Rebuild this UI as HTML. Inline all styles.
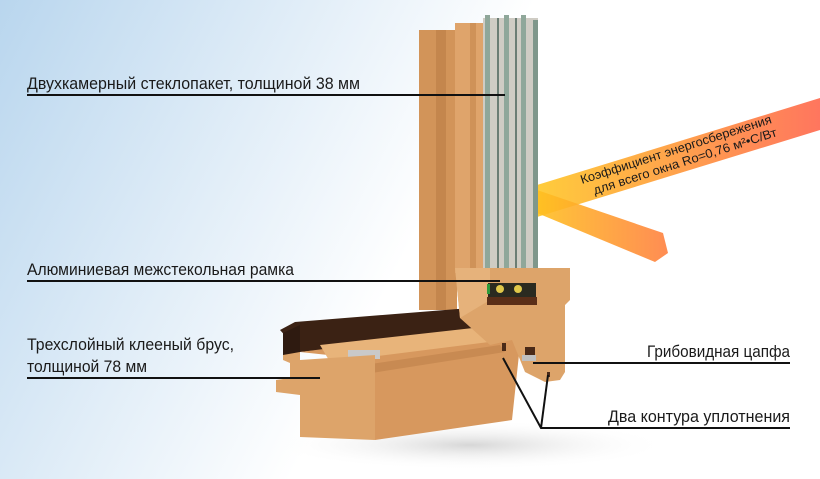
<!DOCTYPE html>
<html><head><meta charset="utf-8"><style>
html,body{margin:0;padding:0;width:820px;height:479px;overflow:hidden;background:#fff}
svg{display:block}
text{font-family:"Liberation Sans",sans-serif;fill:#1a1a1a}
</style></head><body>
<svg width="820" height="479" viewBox="0 0 820 479" xmlns="http://www.w3.org/2000/svg">
<defs>
<linearGradient id="bg" x1="0" y1="0" x2="1" y2="0.3">
<stop offset="0" stop-color="#b9d6ee"/><stop offset="0.35" stop-color="#e2eef8"/><stop offset="0.6" stop-color="#ffffff"/>
</linearGradient>
<linearGradient id="beam1" x1="0" y1="0" x2="1" y2="0">
<stop offset="0" stop-color="#ffc82a"/><stop offset="1" stop-color="#ff6a50"/>
</linearGradient>
<linearGradient id="beam2" x1="0" y1="0" x2="1" y2="0">
<stop offset="0" stop-color="#ffc020"/><stop offset="1" stop-color="#ff8040"/>
</linearGradient>
<radialGradient id="sh" cx="0.5" cy="0.5" r="0.5">
<stop offset="0" stop-color="#bbb" stop-opacity="0.6"/><stop offset="1" stop-color="#fff" stop-opacity="0"/>
</radialGradient>
</defs>
<rect width="820" height="479" fill="url(#bg)"/>
<ellipse cx="470" cy="445" rx="200" ry="25" fill="url(#sh)"/>

<!-- light beams -->
<polygon points="537,185 820,98 820,130 537,217" fill="url(#beam1)" opacity="0.92"/>
<polygon points="537,190 663,233 668,253 655,262 537,213" fill="url(#beam2)" opacity="0.9"/>

<!-- vertical frame -->
<rect x="419" y="30" width="38" height="280" fill="#d29459"/>
<rect x="436" y="30" width="10" height="280" fill="#c4864d"/>
<rect x="455" y="23" width="28" height="250" fill="#dfa46b"/>
<rect x="470" y="23" width="6" height="250" fill="#cf9258"/>
<!-- glass -->
<rect x="483" y="18" width="55" height="258" fill="#cfccc4"/>
<rect x="485" y="15" width="5" height="262" fill="#8fa79a"/>
<rect x="504" y="15" width="5" height="262" fill="#8fa79a"/>
<rect x="521" y="15" width="5" height="262" fill="#8fa79a"/>
<rect x="533" y="20" width="5" height="258" fill="#7f978b"/>
<rect x="497" y="18" width="2" height="258" fill="#6b7d74"/>
<rect x="515" y="18" width="2" height="258" fill="#6b7d74"/>

<!-- horizontal frame bar (perspective) -->
<polygon points="280,330 295,322 470,308 500,305 505,330 300,352" fill="#3b2214"/>
<polygon points="300,352 505,326 520,345 512,420 375,440 375,360" fill="#d7985e"/>
<polygon points="320,345 500,325 505,340 330,362" fill="#e8b47a"/>
<polygon points="330,370 500,345 505,352 340,378" fill="#c88a52"/>
<rect x="348" y="350" width="32" height="9" fill="#c9c9c9"/>
<!-- end face -->
<polygon points="283,350 300,350 300,360 375,355 375,440 300,437 300,395 276,392 276,380 290,378 290,363 283,360" fill="#dda46a"/>
<polygon points="283,333 300,325 300,352 283,355" fill="#2e1a10"/>

<!-- sash bottom profile -->
<polygon points="455,268 570,268 570,300 565,305 565,372 560,380 545,382 525,372 512,340 490,345 460,318" fill="#dda46a"/>
<polygon points="455,268 490,268 490,300 460,318" fill="#e6b27b"/>
<rect x="487" y="297" width="50" height="8" fill="#5a2e18"/>
<rect x="488" y="283" width="48" height="14" fill="#2a2a20"/>
<circle cx="500" cy="289" r="4" fill="#e0c84a"/>
<circle cx="518" cy="289" r="4" fill="#e0c84a"/>
<rect x="487" y="284" width="3" height="10" fill="#2c9a3a"/>
<rect x="525" y="347" width="10" height="8" fill="#4a2a18"/>
<rect x="522" y="355" width="14" height="6" fill="#bfbfbf"/>
<rect x="502" y="343" width="4" height="8" fill="#4a2a18"/>
<rect x="547" y="372" width="3" height="5" fill="#4a2a18"/>

<!-- labels -->
<text x="27" y="89" font-size="16.5" textLength="333" lengthAdjust="spacingAndGlyphs">Двухкамерный стеклопакет, толщиной 38 мм</text>
<line x1="27" y1="95" x2="505" y2="95" stroke="#111" stroke-width="2"/>
<text x="27" y="275" font-size="16.5" textLength="267" lengthAdjust="spacingAndGlyphs">Алюминиевая межстекольная рамка</text>
<line x1="27" y1="281" x2="500" y2="281" stroke="#111" stroke-width="2"/>
<text x="27" y="350" font-size="16.5" textLength="207" lengthAdjust="spacingAndGlyphs">Трехслойный клееный брус,</text>
<text x="27" y="372" font-size="16.5" textLength="120" lengthAdjust="spacingAndGlyphs">толщиной 78 мм</text>
<line x1="27" y1="378" x2="320" y2="378" stroke="#111" stroke-width="2"/>
<text x="647" y="357" font-size="16.5" textLength="143" lengthAdjust="spacingAndGlyphs">Грибовидная цапфа</text>
<line x1="533" y1="363" x2="790" y2="363" stroke="#111" stroke-width="2"/>
<text x="608" y="422" font-size="16.5" textLength="182" lengthAdjust="spacingAndGlyphs">Два контура уплотнения</text>
<polyline points="503,358 541,428 790,428" fill="none" stroke="#111" stroke-width="2"/>
<line x1="541" y1="428" x2="548" y2="375" stroke="#111" stroke-width="2"/>

<g transform="translate(582,184) rotate(-17.8)">
<text x="0" y="0" font-size="12.5" textLength="200" lengthAdjust="spacingAndGlyphs">Коэффициент энергосбережения</text>
<text x="9" y="14" font-size="12.5" textLength="192" lengthAdjust="spacingAndGlyphs">для всего окна Ro=0,76 м²•С/Вт</text>
</g>
</svg>
</body></html>
